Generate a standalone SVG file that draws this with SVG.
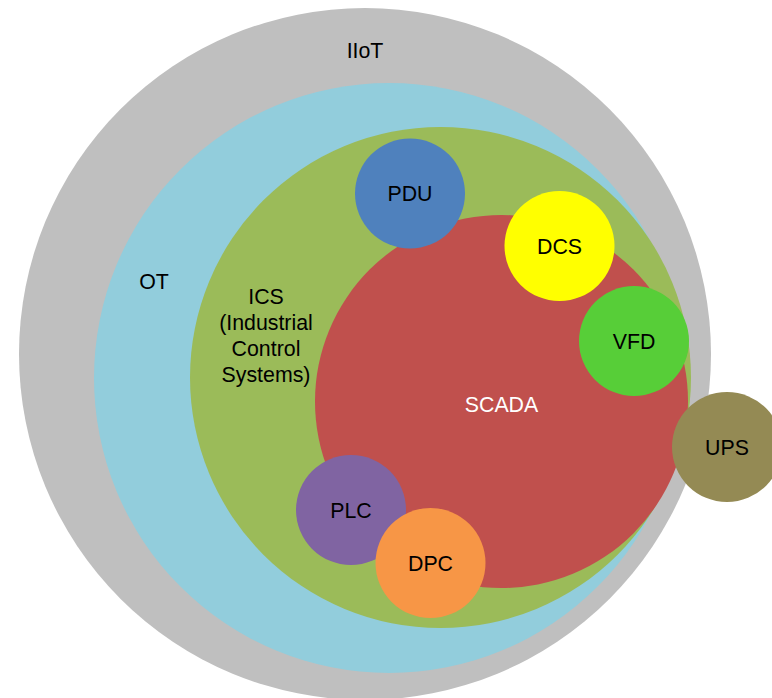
<svg xmlns="http://www.w3.org/2000/svg" width="772" height="698" viewBox="0 0 772 698">
<style>
text{font-family:"Liberation Sans",Arial,sans-serif;font-size:21.33px;fill:#000;text-anchor:middle}
.w{fill:#fff}
</style>
<rect width="772" height="698" fill="#fff"/>
<g id="iiot"><circle cx="365" cy="354" r="346" fill="#BFBFBF"/><text x="365" y="58">IIoT</text></g>
<g id="ot"><circle cx="389" cy="378" r="295" fill="#92CDDC"/><text x="154" y="289">OT</text></g>
<g id="ics"><circle cx="440.5" cy="377.5" r="250.5" fill="#9BBB59"/>
<text x="266" y="304">ICS</text><text x="266" y="330">(Industrial</text><text x="266" y="356">Control</text><text x="266" y="382">Systems)</text></g>
<g id="scada"><circle cx="501.5" cy="401.5" r="186.5" fill="#C0504D"/><text class="w" x="501.5" y="412">SCADA</text></g>
<g id="pdu"><circle cx="410" cy="193.5" r="55" fill="#4F81BD"/><text x="410" y="201">PDU</text></g>
<g id="dcs"><circle cx="559.5" cy="246" r="55" fill="#FFFF00"/><text x="559.5" y="254">DCS</text></g>
<g id="vfd"><circle cx="634" cy="341" r="55" fill="#57CE38"/><text x="634" y="349">VFD</text></g>
<g id="ups"><circle cx="727" cy="447" r="55" fill="#948A54"/><text x="727" y="455">UPS</text></g>
<g id="plc"><circle cx="351" cy="510" r="55" fill="#8064A2"/><text x="351" y="518">PLC</text></g>
<g id="dpc"><circle cx="430.5" cy="563" r="55" fill="#F79646"/><text x="430.5" y="571">DPC</text></g>
<g id="connectors"></g>
</svg>
